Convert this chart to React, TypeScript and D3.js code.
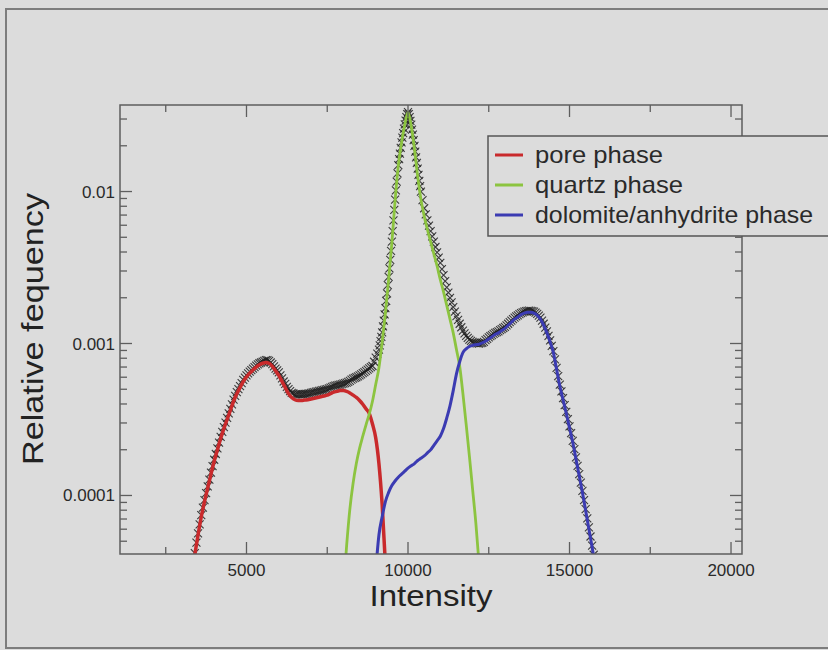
import React from 'react';
import * as d3 from 'd3';

// ---------- axes / ticks ----------
const xDomain: [number, number] = [1084, 20340];
const yDomain: [number, number] = [4.12e-5, 0.0371];
const xMajorTicks = [5000, 10000, 15000, 20000];
const xMinorTicks = [2500, 7500, 12500, 17500];
const yMajorTicks = [0.0001, 0.001, 0.01];
const yTickLabels = ['0.0001', '0.001', '0.01'];
const yMinorTicks = [
  5e-5, 6e-5, 7e-5, 8e-5, 9e-5,
  2e-4, 3e-4, 4e-4, 5e-4, 6e-4, 7e-4, 8e-4, 9e-4,
  2e-3, 3e-3, 4e-3, 5e-3, 6e-3, 7e-3, 8e-3, 9e-3,
  2e-2, 3e-2,
];
const xTitle = 'Intensity';
const yTitle = 'Relative fequency';

// ---------- series (intensity, log10 of relative frequency) ----------
const seriesNames = ['pore phase', 'quartz phase', 'dolomite/anhydrite phase'];
const seriesColors = ['#c92a2c', '#8cc440', '#3b3bb2'];
const seriesWidths = [3.5, 2.8, 3];

const porePhase: [number, number][] = [
  [3300, -4.52], [3400, -4.39], [3500, -4.26], [3600, -4.14], [3700, -4.04], [3800, -3.95], [3900, -3.86],
  [4000, -3.775], [4100, -3.70], [4200, -3.625], [4300, -3.56], [4400, -3.50], [4500, -3.44], [4600, -3.38],
  [4700, -3.33], [4800, -3.29], [4900, -3.25], [5000, -3.22], [5100, -3.195], [5200, -3.175], [5300, -3.155],
  [5400, -3.14], [5500, -3.13], [5600, -3.125], [5700, -3.13], [5800, -3.15], [5900, -3.18], [6000, -3.21],
  [6100, -3.25], [6200, -3.29], [6300, -3.33], [6400, -3.355], [6500, -3.37], [6600, -3.375], [6700, -3.375],
  [6800, -3.372], [6900, -3.37], [7000, -3.365], [7100, -3.36], [7200, -3.355], [7300, -3.35], [7400, -3.345],
  [7500, -3.34], [7600, -3.33], [7700, -3.32], [7800, -3.315], [7900, -3.31], [8000, -3.31], [8100, -3.315],
  [8200, -3.325], [8300, -3.34], [8400, -3.355], [8500, -3.375], [8600, -3.40], [8700, -3.43], [8800, -3.46],
  [8900, -3.53], [9000, -3.62], [9100, -3.79], [9200, -4.06], [9300, -4.45],
];

const quartzPhase: [number, number][] = [
  [8000, -4.62], [8100, -4.33], [8200, -4.09], [8300, -3.92], [8400, -3.79], [8500, -3.69], [8600, -3.61],
  [8700, -3.535], [8800, -3.465], [8900, -3.38], [9000, -3.27], [9100, -3.16], [9200, -2.99], [9300, -2.80],
  [9400, -2.58], [9500, -2.34], [9600, -2.06], [9700, -1.83], [9800, -1.68], [9900, -1.56], [10000, -1.48],
  [10100, -1.57], [10200, -1.72], [10300, -1.90], [10400, -2.05], [10500, -2.16], [10600, -2.25], [10700, -2.33],
  [10800, -2.41], [10900, -2.49], [11000, -2.58], [11100, -2.66], [11200, -2.75], [11300, -2.84], [11400, -2.93],
  [11500, -3.04], [11600, -3.15], [11700, -3.33], [11800, -3.53], [11900, -3.74], [12000, -3.96], [12100, -4.18],
  [12200, -4.45],
];

const dolomitePhase: [number, number][] = [
  [9000, -4.50], [9100, -4.26], [9200, -4.14], [9300, -4.04], [9400, -3.98], [9500, -3.935], [9600, -3.905],
  [9700, -3.88], [9800, -3.86], [9900, -3.84], [10000, -3.82], [10100, -3.805], [10200, -3.79], [10300, -3.77],
  [10400, -3.755], [10500, -3.74], [10600, -3.72], [10700, -3.70], [10800, -3.67], [10900, -3.64], [11000, -3.61],
  [11100, -3.56], [11200, -3.49], [11300, -3.41], [11400, -3.31], [11500, -3.20], [11600, -3.12], [11700, -3.06],
  [11800, -3.035], [11900, -3.02], [12000, -3.012], [12100, -3.008], [12200, -3.005], [12300, -2.995],
  [12400, -2.985], [12500, -2.97], [12600, -2.955], [12700, -2.94], [12800, -2.93], [12900, -2.915], [13000, -2.90],
  [13100, -2.88], [13200, -2.86], [13300, -2.84], [13400, -2.825], [13500, -2.81], [13600, -2.80], [13700, -2.795],
  [13800, -2.795], [13900, -2.80], [14000, -2.815], [14100, -2.84], [14200, -2.88], [14300, -2.93], [14400, -2.99],
  [14500, -3.06], [14600, -3.17], [14700, -3.28], [14800, -3.37], [14900, -3.46], [15000, -3.555], [15100, -3.65],
  [15200, -3.76], [15300, -3.87], [15400, -3.98], [15500, -4.10], [15600, -4.22], [15700, -4.34], [15800, -4.47],
];

// measured histogram (black crosses)
const measured: [number, number][] = [
  [3400, -4.38], [3450, -4.31], [3500, -4.25], [3550, -4.19], [3600, -4.13], [3650, -4.08], [3700, -4.03],
  [3750, -3.985], [3800, -3.94], [3850, -3.895], [3900, -3.85], [3950, -3.807], [4000, -3.765], [4050, -3.727],
  [4100, -3.69], [4150, -3.652], [4200, -3.615], [4250, -3.582], [4300, -3.55], [4350, -3.52], [4400, -3.49],
  [4450, -3.46], [4500, -3.43], [4550, -3.40], [4600, -3.37], [4650, -3.345], [4700, -3.32], [4750, -3.30],
  [4800, -3.28], [4850, -3.26], [4900, -3.24], [4950, -3.225], [5000, -3.21], [5050, -3.197], [5100, -3.185],
  [5150, -3.175], [5200, -3.165], [5250, -3.155], [5300, -3.145], [5350, -3.137], [5400, -3.13], [5450, -3.125],
  [5500, -3.12], [5550, -3.115], [5600, -3.11], [5650, -3.11], [5700, -3.115], [5750, -3.125], [5800, -3.135],
  [5850, -3.15], [5900, -3.165], [5950, -3.177], [6000, -3.19], [6050, -3.21], [6100, -3.23], [6150, -3.25],
  [6200, -3.265], [6250, -3.285], [6300, -3.30], [6350, -3.313], [6400, -3.325], [6450, -3.328], [6500, -3.335],
  [6550, -3.335], [6600, -3.335], [6650, -3.335], [6700, -3.335], [6750, -3.334], [6800, -3.332], [6850, -3.331],
  [6900, -3.33], [6950, -3.328], [7000, -3.325], [7050, -3.322], [7100, -3.32], [7150, -3.317], [7200, -3.315],
  [7250, -3.312], [7300, -3.31], [7350, -3.307], [7400, -3.305], [7450, -3.302], [7500, -3.30], [7550, -3.295],
  [7600, -3.29], [7650, -3.285], [7700, -3.28], [7750, -3.277], [7800, -3.275], [7850, -3.272], [7900, -3.27],
  [7950, -3.267], [8000, -3.264], [8050, -3.261], [8100, -3.258], [8150, -3.252], [8200, -3.246], [8250, -3.238],
  [8300, -3.231], [8350, -3.226], [8400, -3.222], [8450, -3.216], [8500, -3.21], [8550, -3.203], [8600, -3.195],
  [8650, -3.188], [8700, -3.18], [8750, -3.172], [8800, -3.164], [8850, -3.156], [8900, -3.148], [8950, -3.12],
  [9000, -3.093], [9050, -3.067], [9100, -3.041], [9125, -3.013], [9150, -2.985], [9175, -2.956], [9200, -2.927],
  [9225, -2.888], [9250, -2.85], [9275, -2.808], [9300, -2.767], [9325, -2.72], [9350, -2.67], [9375, -2.616],
  [9400, -2.561], [9425, -2.505], [9450, -2.45], [9475, -2.39], [9500, -2.329], [9525, -2.26], [9550, -2.19],
  [9575, -2.12], [9600, -2.054], [9625, -1.993], [9650, -1.935], [9675, -1.88], [9700, -1.826], [9725, -1.787],
  [9750, -1.75], [9775, -1.713], [9800, -1.677], [9825, -1.645], [9850, -1.615], [9875, -1.586], [9900, -1.558],
  [9925, -1.533], [9950, -1.51], [9975, -1.49], [10000, -1.478], [10025, -1.49], [10050, -1.51], [10075, -1.535],
  [10100, -1.56], [10125, -1.592], [10150, -1.625], [10175, -1.662], [10200, -1.70], [10225, -1.737],
  [10250, -1.775], [10275, -1.812], [10300, -1.85], [10325, -1.89], [10350, -1.93], [10375, -1.965],
  [10400, -2.0], [10450, -2.057], [10500, -2.11], [10550, -2.15], [10600, -2.19], [10650, -2.225], [10700, -2.26],
  [10750, -2.295], [10800, -2.33], [10850, -2.365], [10900, -2.40], [10950, -2.435], [11000, -2.47],
  [11050, -2.51], [11100, -2.55], [11150, -2.59], [11200, -2.63], [11250, -2.665], [11300, -2.70], [11350, -2.73],
  [11400, -2.76], [11450, -2.79], [11500, -2.82], [11550, -2.845], [11600, -2.87], [11650, -2.893],
  [11700, -2.915], [11750, -2.933], [11800, -2.95], [11850, -2.963], [11900, -2.975], [11950, -2.983],
  [12000, -2.99], [12050, -2.994], [12100, -2.998], [12150, -2.999], [12200, -3.0], [12250, -2.998],
  [12300, -2.995], [12350, -2.99], [12400, -2.978], [12450, -2.97], [12500, -2.96], [12550, -2.952],
  [12600, -2.945], [12650, -2.937], [12700, -2.93], [12750, -2.925], [12800, -2.92], [12850, -2.912],
  [12900, -2.905], [12950, -2.898], [13000, -2.89], [13050, -2.88], [13100, -2.87], [13150, -2.86],
  [13200, -2.85], [13250, -2.84], [13300, -2.83], [13350, -2.822], [13400, -2.815], [13450, -2.807],
  [13500, -2.80], [13550, -2.795], [13600, -2.79], [13650, -2.787], [13700, -2.785], [13750, -2.784],
  [13800, -2.785], [13850, -2.787], [13900, -2.79], [13950, -2.797], [14000, -2.805], [14050, -2.817],
  [14100, -2.83], [14150, -2.85], [14200, -2.87], [14250, -2.895], [14300, -2.92], [14350, -2.95],
  [14400, -2.98], [14450, -3.015], [14500, -3.05], [14550, -3.105], [14600, -3.16], [14650, -3.215],
  [14700, -3.27], [14750, -3.315], [14800, -3.36], [14850, -3.405], [14900, -3.45], [14950, -3.4975],
  [15000, -3.545], [15050, -3.59], [15100, -3.64], [15150, -3.695], [15200, -3.75], [15250, -3.805],
  [15300, -3.86], [15350, -3.915], [15400, -3.97], [15450, -4.03], [15500, -4.09], [15550, -4.15],
  [15600, -4.21], [15650, -4.27], [15700, -4.33], [15750, -4.39],
];

const components = [porePhase, quartzPhase, dolomitePhase];

// ---------- layout ----------
const W = 828;
const H = 650;
const PL = 120, PR = 742, PT = 105, PB = 554;
const FONT = "'Liberation Sans', Arial, Helvetica, sans-serif";
const BG = '#dcdcdc';
const AXIS = '#5e5e5e';

export default function App() {
  const x = d3.scaleLinear().domain(xDomain).range([PL, PR]);
  const y = d3.scaleLog().domain(yDomain).range([PB, PT]);
  const pt = (d: [number, number]): [number, number] => [x(d[0]), y(Math.pow(10, d[1]))];
  const line = d3.line<[number, number]>().curve(d3.curveMonotoneX);

  const majLen = 12;
  const minLen = 7;
  const m = 4; // half size of cross marker

  const legendX = 488, legendY = 136;
  const legendBaselines = [162.5, 192.5, 222.5];
  const legendTextLen = [128, 148, 278];

  return (
    <svg
      width={W}
      height={H}
      viewBox={`0 0 ${W} ${H}`}
      style={{ position: 'absolute', left: 0, top: 0, display: 'block' }}
      fontFamily={FONT}
    >
      <defs>
        <clipPath id="plotClip">
          <rect x={PL} y={PT} width={PR - PL} height={PB - PT} />
        </clipPath>
      </defs>
      <rect x={0} y={0} width={W} height={H} fill={BG} />
      {/* outer frame */}
      <rect x={6} y={9} width={W + 10} height={639} fill="none" stroke="#7d7d7d" strokeWidth={2} />

      {/* data */}
      <g clipPath="url(#plotClip)">
        <g stroke="#1e1e1e" strokeWidth={1.1} strokeOpacity={0.85}>
          {measured.map((d, i) => {
            const [cx, cy] = pt(d);
            return (
              <path
                key={i}
                d={`M${cx - m},${cy - m}L${cx + m},${cy + m}M${cx - m},${cy + m}L${cx + m},${cy - m}`}
              />
            );
          })}
        </g>
        {components.map((s, i) => (
          <path
            key={i}
            d={line(s.map(pt)) || ''}
            fill="none"
            stroke={seriesColors[i]}
            strokeWidth={seriesWidths[i]}
            strokeLinejoin="round"
          />
        ))}
      </g>

      {/* plot frame */}
      <rect x={PL} y={PT} width={PR - PL} height={PB - PT} fill="none" stroke={AXIS} strokeWidth={1.5} />

      {/* ticks */}
      <g stroke={AXIS} strokeWidth={1.3}>
        {xMajorTicks.map((t) => (
          <g key={'xm' + t}>
            <line x1={x(t)} x2={x(t)} y1={PB} y2={PB - majLen} />
            <line x1={x(t)} x2={x(t)} y1={PT} y2={PT + majLen} />
          </g>
        ))}
        {xMinorTicks.map((t) => (
          <g key={'xn' + t}>
            <line x1={x(t)} x2={x(t)} y1={PB} y2={PB - minLen} />
            <line x1={x(t)} x2={x(t)} y1={PT} y2={PT + minLen} />
          </g>
        ))}
        {yMajorTicks.map((t) => (
          <g key={'ym' + t}>
            <line x1={PL} x2={PL + majLen} y1={y(t)} y2={y(t)} />
            <line x1={PR} x2={PR - majLen} y1={y(t)} y2={y(t)} />
          </g>
        ))}
        {yMinorTicks.map((t) => (
          <g key={'yn' + t}>
            <line x1={PL} x2={PL + minLen} y1={y(t)} y2={y(t)} />
            <line x1={PR} x2={PR - minLen} y1={y(t)} y2={y(t)} />
          </g>
        ))}
      </g>

      {/* tick labels */}
      <g fontSize={17} fill="#2a2a2a">
        {xMajorTicks.map((t) => (
          <text key={'xl' + t} x={x(t)} y={575.5} textAnchor="middle">
            {d3.format('d')(t)}
          </text>
        ))}
        {yMajorTicks.map((t, i) => (
          <text key={'yl' + t} x={115} y={y(t) + 6} textAnchor="end">
            {yTickLabels[i]}
          </text>
        ))}
      </g>

      {/* axis titles */}
      <text
        x={431}
        y={606}
        fontSize={29}
        fill="#222"
        textAnchor="middle"
        textLength={123}
        lengthAdjust="spacingAndGlyphs"
      >
        {xTitle}
      </text>
      <text
        transform="translate(43,329) rotate(-90)"
        fontSize={29}
        fill="#222"
        textAnchor="middle"
        textLength={272}
        lengthAdjust="spacingAndGlyphs"
      >
        {yTitle}
      </text>

      {/* legend */}
      <rect x={legendX} y={legendY} width={360} height={100} fill={BG} stroke="#555" strokeWidth={1.5} />
      {seriesNames.map((n, i) => (
        <g key={n}>
          <line
            x1={495}
            x2={523}
            y1={legendBaselines[i] - 7.5}
            y2={legendBaselines[i] - 7.5}
            stroke={seriesColors[i]}
            strokeWidth={3}
          />
          <text
            x={535}
            y={legendBaselines[i]}
            fontSize={24}
            fill="#2a2a2a"
            textLength={legendTextLen[i]}
            lengthAdjust="spacingAndGlyphs"
          >
            {n}
          </text>
        </g>
      ))}
    </svg>
  );
}
